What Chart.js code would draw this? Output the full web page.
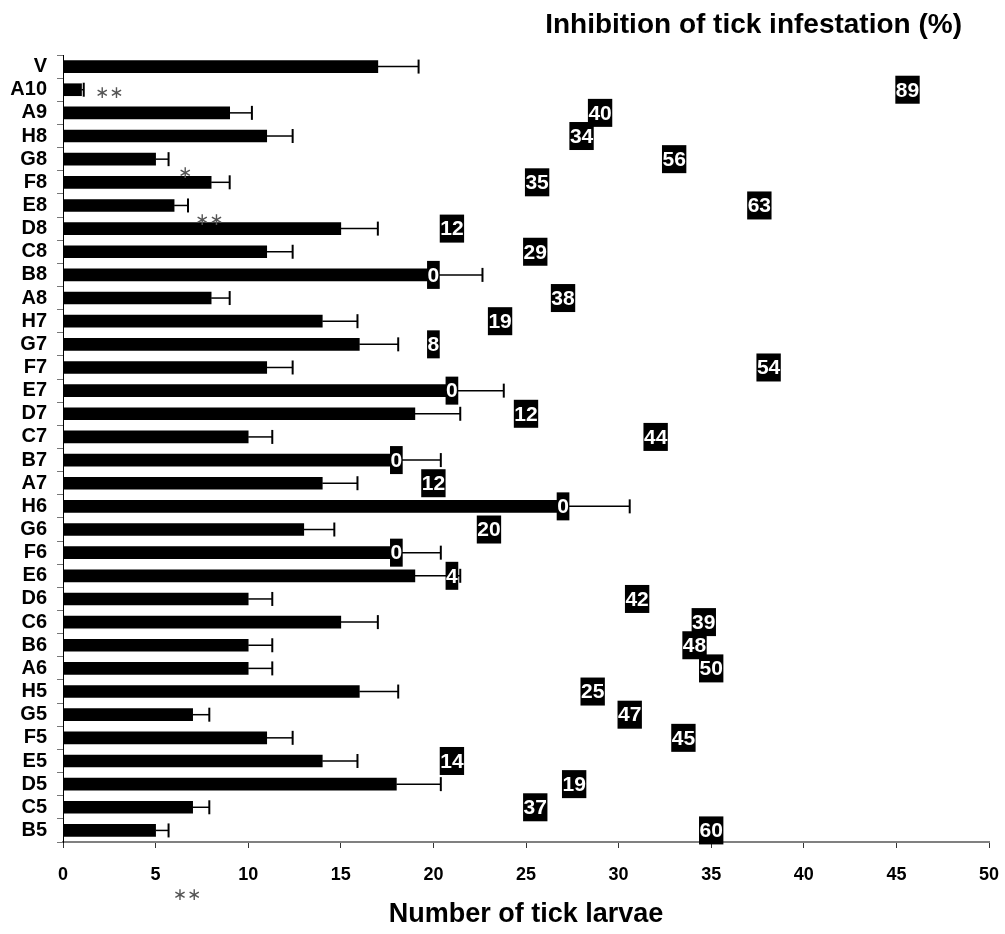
<!DOCTYPE html>
<html>
<head>
<meta charset="utf-8">
<script src="https://cdn.jsdelivr.net/npm/chart.js@4"></script>
<style>
  html, body { margin: 0; padding: 0; background: #fff; }
  .chart-container { width: 1005px; height: 934px; }
</style>
</head>
<body>
<div class="chart-container"><canvas id="larvaeChart"></canvas></div>
<script>
const FONT = "'Liberation Sans', Arial, sans-serif";

// groups, top to bottom
const groups = ['V','A10','A9','H8','G8','F8','E8','D8','C8','B8','A8','H7','G7','F7','E7','D7','C7','B7','A7','H6','G6','F6','E6','D6','C6','B6','A6','H5','G5','F5','E5','D5','C5','B5'];
// number of tick larvae (mean) and error
const larvae = [17,1,9,11,5,8,6,15,11,20,8,14,16,11,21,19,10,18,14,27,13,18,19,10,15,10,10,16,7,11,14,18,7,5];
const larvaeErr = [2.2,0.12,1.2,1.4,0.7,1.0,0.75,2.0,1.4,2.65,1.0,1.9,2.1,1.4,2.8,2.45,1.3,2.4,1.9,3.6,1.65,2.4,2.45,1.3,2.0,1.3,1.3,2.1,0.9,1.4,1.9,2.4,0.9,0.7];
// inhibition of tick infestation (%) and where each value box sits on the x scale
const inhibition = [null,89,40,34,56,35,63,12,29,0,38,19,8,54,0,12,44,0,12,0,20,0,4,42,39,48,50,25,47,45,14,19,37,60];
const inhibitionPos = [null,45.6,29,28,33,25.6,37.6,21,25.5,20,27,23.6,20,38.1,21,25,32,18,20,27,23,18,21,31,34.6,34.1,35,28.6,30.6,33.5,21,27.6,25.5,35];
// significance marks: [text, x value, group index + offset]
const sigMarks = [
  ['\u2217\u2217', 2.5, 1.15],
  ['\u2217', 6.6, 4.62],
  ['\u2217\u2217', 7.9, 6.66],
  ['\u2217\u2217', 6.7, 35.8]
];

const errorBars = {
  id: 'errorBars',
  afterDatasetsDraw(chart) {
    const {ctx, scales: {x, y}} = chart;
    ctx.save();
    ctx.strokeStyle = '#000';
    for (let i = 0; i < larvae.length; i++) {
      const yc = y.getPixelForValue(i);
      const x0 = x.getPixelForValue(larvae[i]);
      const x1 = x.getPixelForValue(larvae[i] + larvaeErr[i]);
      ctx.lineWidth = 1.5;
      ctx.beginPath();
      ctx.moveTo(x0, yc);
      ctx.lineTo(x1, yc);
      ctx.stroke();
      ctx.lineWidth = 2;
      ctx.beginPath();
      ctx.moveTo(x1, yc - 7);
      ctx.lineTo(x1, yc + 7);
      ctx.stroke();
    }
    ctx.restore();
  }
};

const inhibitionBoxes = {
  id: 'inhibitionBoxes',
  afterDraw(chart) {
    const {ctx, scales: {x, y}} = chart;
    ctx.save();
    ctx.font = 'bold 21px ' + FONT;
    ctx.textAlign = 'center';
    ctx.textBaseline = 'middle';
    for (let i = 0; i < inhibition.length; i++) {
      if (inhibition[i] === null) { continue; }
      const txt = String(inhibition[i]);
      const cx = x.getPixelForValue(inhibitionPos[i]);
      const cy = y.getPixelForValue(i);
      const w = ctx.measureText(txt).width + 1;
      ctx.fillStyle = '#000';
      ctx.fillRect(cx - w / 2, cy - 14, w, 28);
      ctx.fillStyle = '#fff';
      ctx.fillText(txt, cx, cy + 1);
    }
    // asterisks
    ctx.font = '17px "DejaVu Sans", sans-serif';
    ctx.fillStyle = '#555';
    sigMarks.forEach(m => {
      ctx.fillText(m[0], x.getPixelForValue(m[1]), y.getPixelForValue(m[2]));
    });
    // top title
    ctx.font = 'bold 28px ' + FONT;
    ctx.fillStyle = '#000';
    ctx.textAlign = 'right';
    ctx.fillText('Inhibition of tick infestation (%)', 962, 25);
    ctx.restore();
  }
};

const config = {
  type: 'bar',
  data: {
    labels: groups,
    datasets: [{
      label: 'Number of tick larvae',
      data: larvae,
      backgroundColor: '#000',
      borderWidth: 0,
      barThickness: 12
    }]
  },
  options: {
    indexAxis: 'y',
    responsive: true,
    maintainAspectRatio: false,
    animation: false,
    layout: { padding: { top: 55, right: 16, left: 0, bottom: 0 } },
    plugins: {
      legend: { display: false },
      tooltip: { enabled: false },
      title: { display: false }
    },
    scales: {
      x: {
        min: 0,
        max: 50,
        ticks: {
          stepSize: 5,
          color: '#000',
          padding: 16,
          font: { family: FONT, size: 18, weight: 'bold' }
        },
        grid: { drawOnChartArea: false, drawTicks: true, tickLength: 6, color: '#333' },
        border: { color: '#808080', width: 2 },
        title: {
          display: true,
          text: 'Number of tick larvae',
          color: '#000',
          font: { family: FONT, size: 27, weight: 'bold' },
          padding: { top: 0, bottom: 3 }
        },
        afterFit: (scale) => {
          scale.height = 92;
          scale.paddingLeft = 0;
          scale.paddingRight = 0;
        }
      },
      y: {
        ticks: {
          color: '#000',
          padding: 10,
          autoSkip: false,
          font: { family: FONT, size: 20, weight: 'bold' }
        },
        grid: { drawOnChartArea: false, drawTicks: true, tickLength: 6, color: '#777', offset: true },
        border: { color: '#000', width: 1 },
        afterFit: (scale) => { scale.width = 63; }
      }
    }
  },
  plugins: [errorBars, inhibitionBoxes]
};

const chart = new Chart(document.getElementById('larvaeChart').getContext('2d'), config);
</script>
</body>
</html>
